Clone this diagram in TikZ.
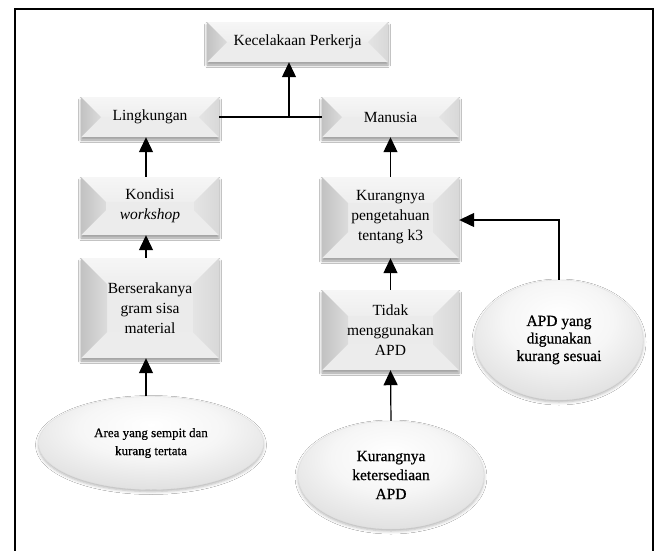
\documentclass[tikz,border=0pt]{standalone}
\usepackage{fontspec}
\setmainfont{Liberation Serif}
\newfontfamily\ellserif{Liberation Serif}[FakeBold=0.7]
\usetikzlibrary{arrows.meta,calc,shapes.geometric,shadows.blur}

% bevel face colours
\definecolor{bvleftout}{HTML}{C2C2C2}
\definecolor{bvleftin}{HTML}{DCDCDC}
\definecolor{bvtop}{HTML}{F6F6F6}
\definecolor{bvtopin}{HTML}{EEEEEE}
\definecolor{bvright}{HTML}{E4E4E4}
\definecolor{bvrightout}{HTML}{D8D8D8}
\definecolor{bvbottom}{HTML}{ECECEC}
\definecolor{bvface}{HTML}{EBEBEB}

% ellipse glow colours
\definecolor{elA}{HTML}{FFFFFF}
\definecolor{elB}{HTML}{F6F6F6}
\definecolor{elC}{HTML}{DADADA}
\definecolor{elD}{HTML}{BABABA}
\pgfdeclareradialshading{ellglow}{\pgfpoint{0bp}{10bp}}{%
  color(0bp)=(elA); color(16bp)=(elB); color(36bp)=(elC);
  color(52bp)=(elD); color(80bp)=(elD)}

\newcommand\boxfont{\fontsize{15.5}{20}\selectfont}
\newcommand\ellsmall{\ellserif\fontsize{13}{18}\selectfont}
\newcommand\elllarge{\ellserif\fontsize{15.5}{19}\selectfont}
\newcommand\elllargetight{\ellserif\fontsize{15.5}{17.5}\selectfont}

% four bevel faces of a raised box, depth #1 (pt)
\newcommand\bevelfaces[1]{%
  \coordinate (bsw) at (path picture bounding box.south west);
  \coordinate (bne) at (path picture bounding box.north east);
  \coordinate (bnw) at (bsw |- bne);
  \coordinate (bse) at (bne |- bsw);
  \coordinate (isw) at ($(bsw)+(#1pt,#1pt)$);
  \coordinate (ine) at ($(bne)+(-#1pt,-#1pt)$);
  \coordinate (inw) at ($(bnw)+(#1pt,-#1pt)$);
  \coordinate (ise) at ($(bse)+(-#1pt,#1pt)$);
  \shade[top color=bvtop, bottom color=bvtopin] (bnw) -- (bne) -- (ine) -- (inw) -- cycle;
  \fill[bvbottom] (bse) -- (bsw) -- (isw) -- (ise) -- cycle;
  \shade[left color=bvleftout, right color=bvleftin] (bsw) -- (bnw) -- (inw) -- (isw) -- cycle;
  \shade[left color=bvright, right color=bvrightout] (bne) -- (bse) -- (ise) -- (ine) -- cycle;
}

\tikzset{
  bevelbox/.style={rectangle, inner sep=0pt, fill=bvface, align=center,
    font=\boxfont,
    blur shadow={shadow xshift=0pt, shadow yshift=-3pt,
      shadow blur radius=2.5pt, shadow opacity=40},
    path picture={\bevelfaces{#1}}},
  glowell/.style={ellipse, inner sep=0pt, align=center, shading=ellglow,
    draw=black!12, line width=0.4pt,
    blur shadow={shadow xshift=0pt, shadow yshift=-2pt,
      shadow blur radius=3pt, shadow opacity=30}},
  arr/.style={-{Triangle[width=14pt,length=15pt]}, line width=1.2pt},
  link/.style={line width=1.2pt},
  frame/.style={line width=2pt}
}

\begin{document}
\begin{tikzpicture}[x=1pt,y=-1pt]
\useasboundingbox (0,0) rectangle (657,550);
\fill[white] (0,0) rectangle (657,550);

% outer frame (open at the bottom edge of the page)
\draw[frame] (15,560) -- (15,9) -- (653,9) -- (653,560);

% boxes
\node[bevelbox=20, minimum width=181pt, minimum height=40pt] (K) at (297.5,42) {Kecelakaan Perkerja};
\node[bevelbox=20, minimum width=138pt, minimum height=40pt] (L) at (150,117) {Lingkungan};
\node[bevelbox=20, minimum width=137pt, minimum height=40pt] (M) at (390.5,117) {Manusia};
\node[bevelbox=25, minimum width=138pt, minimum height=58pt] (KW) at (150,206) {Kondisi\\\textit{workshop}};
\node[bevelbox=26, minimum width=138pt, minimum height=100pt] (B) at (150,308) {Berserakanya\\gram sisa\\material};
\node[bevelbox=26, minimum width=137pt, minimum height=81pt] (KP) at (390.5,217.5) {Kurangnya\\pengetahuan\\tentang k3};
\node[bevelbox=26, minimum width=137pt, minimum height=80pt] (T) at (390.5,330) {Tidak\\menggunakan\\APD};

% ellipses
\node[glowell, minimum width=225pt, minimum height=93pt, font=\ellsmall] (E1) at (151,443) {Area yang sempit dan\\kurang tertata};
\node[glowell, minimum width=186pt, minimum height=108pt, font=\elllarge] (E2) at (391,475) {Kurangnya\\ketersediaan\\APD};
\node[glowell, minimum width=168pt, minimum height=120pt, font=\elllargetight] (E3) at (559,340) {APD yang\\digunakan\\kurang sesuai};

% connectors
\coordinate (J) at ([xshift=-8.5pt]K.south |- L.east);
\draw[link] (L.east) -- (M.west);
\draw[arr] (J) -- (J |- K.south);
\draw[arr] ([xshift=-4pt]KW.north) -- ([xshift=-4pt]L.south);
\draw[arr] ([xshift=-4pt]B.north) -- ([xshift=-4pt]KW.south);
\draw[arr] ([xshift=-5pt]E1.north) -- ([xshift=-4pt]B.south);
\draw[arr] (KP.north) -- (M.south);
\draw[arr] (T.north) -- (KP.south);
\draw[arr] (E2.north) -- (T.south);
\draw[arr] (E3.north) |- ([yshift=-2.5pt]KP.east);
\end{tikzpicture}
\end{document}
